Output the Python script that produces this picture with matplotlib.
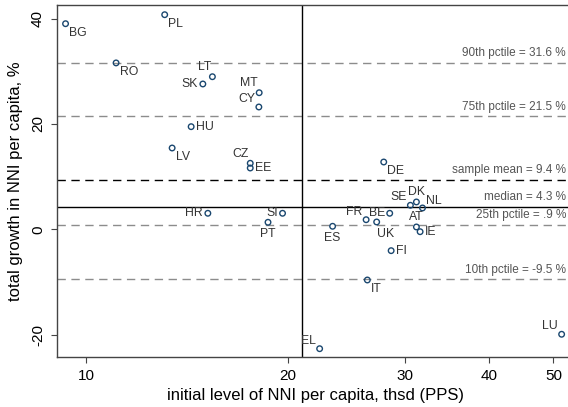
import numpy as np
import matplotlib
matplotlib.use("Agg")
import matplotlib.pyplot as plt
from matplotlib.ticker import NullLocator, NullFormatter

plt.rcParams['font.family'] = ['Liberation Sans', 'DejaVu Sans']
plt.rcParams.update({
    'xtick.labelsize': 11, 'ytick.labelsize': 11,
    'xtick.major.size': 4.5, 'ytick.major.size': 4.5,
    'xtick.major.width': 0.8, 'ytick.major.width': 0.8,
    'xtick.color': '#444444', 'ytick.color': '#444444',
    'xtick.labelcolor': 'black', 'ytick.labelcolor': 'black',
    'xtick.major.pad': 4, 'ytick.major.pad': 4,
})

# Country data: initial NNI per capita (thsd PPS) and total growth (%)
countries = ["BG", "PL", "RO", "LT", "SK", "MT", "CY", "HU", "LV", "CZ", "EE",
             "HR", "SI", "PT", "DE", "SE", "DK", "NL", "FR", "BE", "UK", "AT",
             "IE", "ES", "FI", "IT", "EL", "LU"]
nni_initial = [9.31, 13.10, 11.08, 15.44, 14.94, 18.14, 18.12, 14.35, 13.44, 17.59, 17.59,
               15.20, 19.66, 18.70, 27.86, 30.54, 31.18, 31.84, 26.22, 28.44, 27.19, 31.18,
               31.58, 23.36, 28.58, 26.33, 22.34, 51.42]
growth = [39.05, 40.76, 31.6, 28.98, 27.6, 25.94, 23.23, 19.49, 15.44, 12.54, 11.64,
          3.04, 3.04, 1.33, 12.78, 4.56, 5.19, 4.05, 1.82, 3.04, 1.39, 0.44,
          -0.46, 0.57, -4.06, -9.63, -22.68, -19.94]
# clock position of each marker label
label_pos = [4, 4, 4, 11, 9, 11, 10, 3, 4, 11, 3,
             9, 9, 6, 4, 10, 12, 2, 10, 9, 5, 12,
             3, 6, 3, 4, 10, 10]

# Reference lines
stat_names = ["90th pctile", "75th pctile", "sample mean", "median", "25th pctile", "10th pctile"]
stat_values = [31.6, 21.5, 9.4, 4.3, 0.9, -9.5]
stat_text = ["31.6", "21.5", "9.4", "4.3", ".9", "-9.5"]
mean_initial = 21.0

x_ticks = [10, 20, 30, 40, 50]
y_ticks = [-20, 0, 20, 40]

fig = plt.figure(figsize=(5.68, 4.07), dpi=100)
ax = fig.add_axes([0.0998, 0.1236, 0.9102, 0.9877 - 0.1236])

ax.set_xscale('log')
ax.set_xlim(9.03, 53.6)
ax.set_ylim(-24.2, 42.6)
ax.set_xticks(x_ticks, labels=[str(v) for v in x_ticks])
ax.xaxis.set_minor_locator(NullLocator())
ax.xaxis.set_minor_formatter(NullFormatter())
ax.set_yticks(y_ticks, labels=[str(v) for v in y_ticks], rotation=90, va='center')

navy = '#1a476f'
ax.scatter(nni_initial, growth, s=16, facecolors='none', edgecolors=navy,
           linewidths=1.0, zorder=3)

offsets = {
    2: ((2.5, 0.5), 'left', 'bottom'),
    3: ((3.5, 0), 'left', 'center'),
    4: ((2.5, -2.5), 'left', 'top'),
    5: ((0.5, -4), 'left', 'top'),
    6: ((0, -4), 'center', 'top'),
    9: ((-3.5, 0), 'right', 'center'),
    10: ((-2.5, 1.5), 'right', 'bottom'),
    11: ((-1, 2.5), 'right', 'bottom'),
    12: ((0, 3), 'center', 'bottom'),
}
for name, xv, yv, p in zip(countries, nni_initial, growth, label_pos):
    (dx, dy), ha, va = offsets[p]
    ax.annotate(name, (xv, yv), xytext=(dx, dy), textcoords='offset points',
                ha=ha, va=va, fontsize=8.8, color='#333333', zorder=4)

dash = (0, (6, 4))
for name, val, txt in zip(stat_names, stat_values, stat_text):
    if name == "median":
        ax.axhline(val, color='black', lw=1.0, zorder=1)
    elif name == "sample mean":
        ax.axhline(val, color='black', lw=1.0, ls=dash, zorder=1)
    else:
        ax.axhline(val, color='#8c8c8c', lw=1.0, ls=dash, zorder=1)
    ax.annotate(f"{name} = {txt} %", (0.985, val),
                xycoords=('axes fraction', 'data'), xytext=(0, 2.5),
                textcoords='offset points', ha='right', va='bottom',
                fontsize=8.5, color='#555555')

ax.axvline(mean_initial, color='black', lw=1.0, zorder=1)

for side in ['left', 'bottom', 'top']:
    ax.spines[side].set_color('#444444')
    ax.spines[side].set_linewidth(1.0)
ax.spines['right'].set_visible(False)

ax.set_xlabel("initial level of NNI per capita, thsd (PPS)", fontsize=12, labelpad=4)
ax.set_ylabel("total growth in NNI per capita, %", fontsize=12, labelpad=6)

fig.savefig("out.png", dpi=100)
